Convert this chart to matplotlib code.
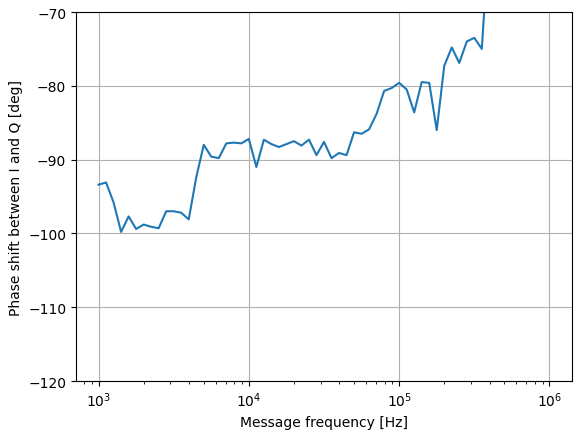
import numpy as np
import matplotlib
matplotlib.use("Agg")
import matplotlib.pyplot as plt

# log-spaced message frequencies, 20 points per decade
exponents = [3 + k / 20 for k in range(53)]
phase_deg = [
    -93.4, -93.1, -95.8, -99.8, -97.7, -99.4, -98.8, -99.1, -99.3, -97.0,
    -97.0, -97.2, -98.1, -92.4, -88.0, -89.6, -89.8, -87.8, -87.7, -87.8,
    -87.2, -91.0, -87.3, -87.9, -88.3, -87.9, -87.5, -88.1, -87.3, -89.4,
    -87.6, -89.8, -89.1, -89.4, -86.3, -86.5, -85.9, -83.8, -80.7, -80.3,
    -79.6, -80.5, -83.6, -79.5, -79.6, -86.0, -77.3, -74.8, -76.9, -74.0,
    -73.5, -75.0, -59.0,
]

freqs = np.power(10.0, exponents)

W, H = 582, 435
fig = plt.figure(figsize=(W / 100, H / 100), dpi=100)
ax = fig.add_axes([76 / W, (H - 382) / H, 496 / W, 369 / H])
ax.plot(freqs, phase_deg)
ax.set_xscale("log")
ax.set_xlim(10 ** 2.85, 10 ** 6.15)
ax.set_ylim(-120, -70)
ax.set_xlabel("Message frequency [Hz]")
ax.set_ylabel("Phase shift between I and Q [deg]")
ax.grid(True)

fig.savefig("out.png", dpi=100)
